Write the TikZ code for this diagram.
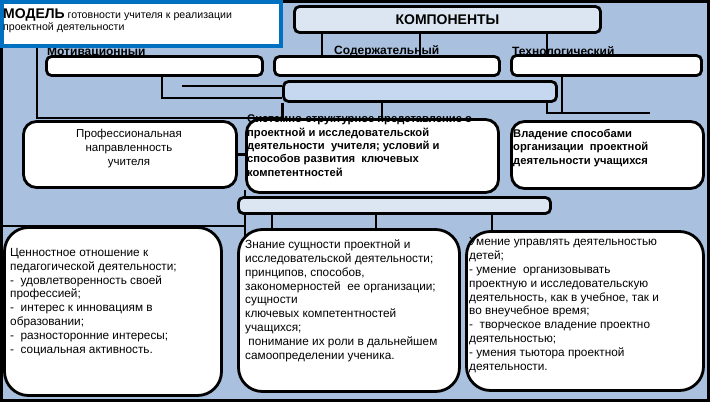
\documentclass[tikz,border=0pt]{standalone}
\usepackage{fontspec}
\setmainfont{Liberation Sans}
\usepackage{tikz}
\pgfdeclarelayer{back}
\pgfdeclarelayer{lines}
\pgfsetlayers{back,lines,main}
\definecolor{bgblue}{RGB}{169,193,222}
\definecolor{midblue}{RGB}{198,216,240}
\definecolor{paleblue}{RGB}{220,230,242}
\definecolor{titleblue}{RGB}{0,112,192}

\begin{document}
\begin{tikzpicture}[x=1pt,y=-1pt,
    wire/.style={line width=2.8pt},
    box/.style={draw, fill=white, rounded corners=5pt, inner sep=0pt, line width=2.8pt},
    midbox/.style={box, rounded corners=13pt},
    bigbox/.style={box, rounded corners=24pt},
    body/.style={font=\fontsize{11.8}{13.8}\selectfont, align=left, inner sep=0pt, anchor=base west},
    head/.style={font=\fontsize{11.2}{13.3}\selectfont\bfseries, align=left, inner sep=0pt, anchor=base west},
    comp/.style={font=\fontsize{12}{14}\selectfont\bfseries, inner sep=0pt, anchor=base west}]
    \useasboundingbox (0,0) rectangle (710,402);
    % Component names (partly hidden by the boxes)
    \node[comp] (motl) at (47,55) {Мотивационный};
    \node[comp] (sodl) at (334,54.5) {Содержательный};
    \node[comp] (texl) at (512,55) {Технологический};
    % Top row
    \node[box, fill=paleblue, minimum width=306pt, minimum height=26pt,
      font=\fontsize{14}{16}\selectfont\bfseries] (komp) at (447.5,19.5) {КОМПОНЕНТЫ};
    \node[box, minimum width=216pt, minimum height=19pt] (mot) at (154.5,66) {};
    \node[box, minimum width=225pt, minimum height=19pt] (sod) at (387,66) {};
    \node[box, minimum width=190pt, minimum height=20pt] (tex) at (606.5,65.5) {};
    \node[box, fill=midblue, minimum width=273pt, minimum height=20pt] (sum) at (420,91.5) {};
    % Middle row
    \node[midbox, minimum width=213pt, minimum height=66pt] (prof) at (130,154.5) {};
    \node[midbox, minimum width=252pt, minimum height=73pt] (sys) at (372.5,156) {};
    \node[midbox, minimum width=192pt, minimum height=67pt] (vlad) at (607.5,155) {};
    \node[box, fill=paleblue, minimum width=312pt, minimum height=16pt] (res) at (394.5,205.5) {};
    % Bottom row
    \node[bigbox, minimum width=217pt, minimum height=168pt] (val) at (113,311.5) {};
    \node[bigbox, minimum width=221pt, minimum height=162pt] (know) at (349,310.5) {};
    \node[bigbox, minimum width=237pt, minimum height=159pt] (skill) at (585,311) {};
    % Texts (placed by the baseline of their last line)
    \node[font=\fontsize{11.5}{14}\selectfont, align=center, inner sep=0pt, anchor=base]
      (proft) at (129,165) {Профессиональная\\направленность\\учителя};
    \node[head] (syst) at (247,176) {Системно-структурное представление о\\проектной и исследовательской\\деятельности\ \ учителя; условий и\\способов развития\ \ ключевых\\компетентностей};
    \node[head] (vladt) at (513,164) {Владение способами\\организации\ \ проектной\\деятельности учащихся};
    \node[body] (valt) at (10,353) {Ценностное отношение к\\педагогической деятельности;\\-\ \ удовлетворенность своей\\профессией;\\-\ \ интерес к инновациям в\\образовании;\\-\ \ разносторонние интересы;\\-\ \ социальная активность.};
    \node[body] (knowt) at (245,359) {Знание сущности проектной и\\исследовательской деятельности;\\принципов, способов,\\закономерностей\ \ ее организации;\\сущности\\ключевых компетентностей\\учащихся;\\\ понимание их роли в дальнейшем\\самоопределении ученика.};
    \node[body] (skillt) at (469,370) {Умение управлять деятельностью\\детей;\\- умение\ \ организовывать\\проектную и исследовательскую\\деятельность, как в учебное, так и\\во внеучебное время;\\-\ \ творческое владение проектно\\деятельностью;\\- умения тьютора проектной\\деятельности.};
    % Title
    \node[draw=titleblue, line width=4pt, fill=white, inner sep=0pt,
      minimum width=279pt, minimum height=44pt] (title) at (141.5,24) {};
    \node[font=\fontsize{10.6}{12}\selectfont, align=left, inner sep=0pt, anchor=base west]
      (titlet) at (3,30) {{\fontsize{14}{16}\selectfont\bfseries МОДЕЛЬ} готовности учителя к реализации\\проектной деятельности};
    % Background
    \begin{pgfonlayer}{back}
      \fill[bgblue] (0,0) rectangle (710,402);
      \draw[line width=3pt] (1.5,1.5) rectangle (708.5,400.5);
    \end{pgfonlayer}
    % Draw lines
    \begin{pgfonlayer}{lines}
      \coordinate (corner) at (37,118);
      \foreach \x in {322,420} \draw[wire] (komp.south -| \x,0) -- (sod.north -| \x,0);
      \draw[wire] (komp.south -| 547,0) -- (tex.north -| 547,0);
      \draw[wire] (title.south -| corner) -- (corner) -- (sum.south west |- corner);
      \draw[wire] (sum.south west) -- (sum.south west |- corner);
      \draw[wire] (mot.south -| 162,0) -- (162,98) -- (sum.west |- 0,98);
      \draw[wire] (182,86) -- (sum.west |- 0,86);
      \draw[wire] (sum.south -| 382,0) -- (sys.north -| 382,0);
      \draw[wire] (sum.south -| 547,0) -- (547,113) -- (650,113);
      \draw[wire] (tex.south -| 562,0) -- (562,113);
      \draw[wire] (prof.east) -- (sys.west |- prof.east);
      \draw[wire] (245,190) -- (245,236);
      \foreach \x in {272,376} \draw[wire] (res.south -| \x,0) -- (know.north -| \x,0);
      \draw[wire] (res.south -| 492,0) -- (skill.north -| 492,0);
      \draw[wire] (3,226) -- (245,226);
    \end{pgfonlayer}
\end{tikzpicture}
\end{document}
